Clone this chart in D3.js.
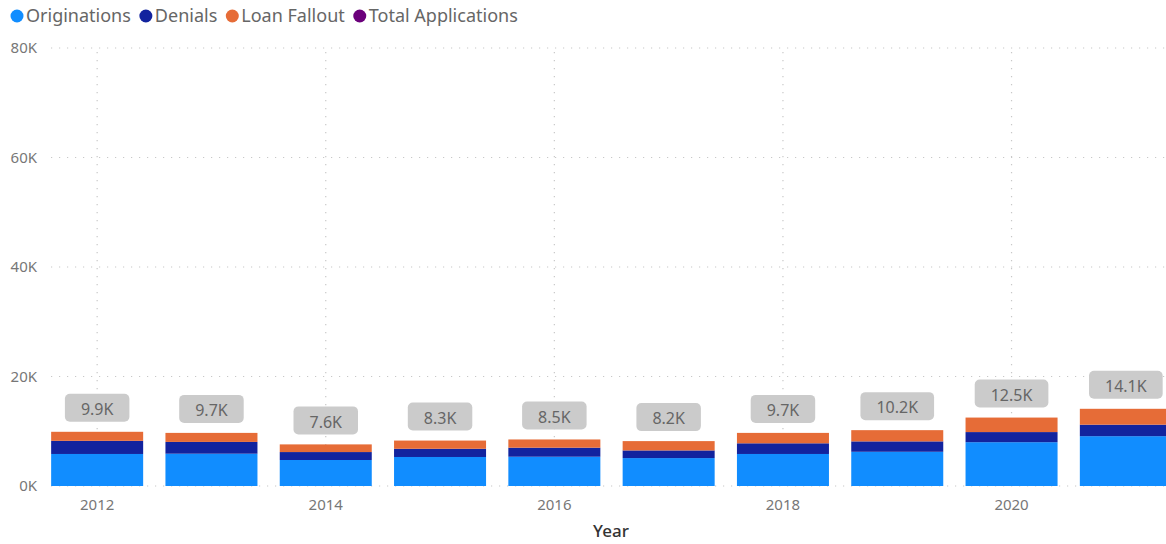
<!DOCTYPE html>
<html>
<head>
<meta charset="utf-8">
<script src="https://cdn.jsdelivr.net/npm/d3@7"></script>
<style>
  body { margin: 0; background: #fff; overflow: hidden; }
  svg { display: block; font-family: "Segoe UI", "Noto Sans", sans-serif; }
</style>
</head>
<body>
<div id="chart"></div>
<script>
// data (thousands)
const years = [2012, 2013, 2014, 2015, 2016, 2017, 2018, 2019, 2020, 2021];
const originations = [5.85, 5.9, 4.75, 5.3, 5.35, 5.1, 5.85, 6.25, 8.0, 9.1];
const denials = [2.4, 2.15, 1.45, 1.5, 1.65, 1.4, 1.95, 1.9, 1.85, 2.1];
const loanFallout = [1.65, 1.65, 1.4, 1.5, 1.5, 1.7, 1.9, 2.05, 2.65, 2.9];
const totalApplications = [9.9, 9.7, 7.6, 8.3, 8.5, 8.2, 9.7, 10.2, 12.5, 14.1];
const yTicks = [0, 20, 40, 60, 80];
const xTickYears = [2012, 2014, 2016, 2018, 2020];

const seriesNames = ['Originations', 'Denials', 'Loan Fallout', 'Total Applications'];
const colours = ['#118DFF', '#12239E', '#E66C37', '#6B007B'];

const width = 1166, height = 544;
const margin = {top: 48, right: 0, bottom: 58, left: 51};

const rows = years.map((y, i) => ({
  year: y,
  Originations: originations[i],
  Denials: denials[i],
  'Loan Fallout': loanFallout[i],
  total: totalApplications[i]
}));

const svg = d3.select('#chart').append('svg')
  .attr('width', width)
  .attr('height', height);

const x = d3.scaleBand()
  .domain(years)
  .range([40, 1183])
  .paddingInner(0.195)
  .paddingOuter(0.0975);

const y = d3.scaleLinear()
  .domain([0, 80])
  .range([height - margin.bottom, margin.top]);

const colour = d3.scaleOrdinal().domain(seriesNames).range(colours);

// gridlines
const grid = svg.append('g').attr('class', 'grid');
grid.selectAll('.hgrid')
  .data(yTicks).enter()
  .append('line')
  .attr('x1', margin.left).attr('x2', width)
  .attr('y1', d => y(d)).attr('y2', d => y(d))
  .attr('stroke', '#c8c8c8')
  .attr('stroke-width', 1.2)
  .attr('stroke-dasharray', '1.2,6.8');

grid.selectAll('.vgrid')
  .data(xTickYears).enter()
  .append('line')
  .attr('x1', d => x(d) + x.bandwidth() / 2)
  .attr('x2', d => x(d) + x.bandwidth() / 2)
  .attr('y1', y(80) + 4).attr('y2', y(0))
  .attr('stroke', '#c8c8c8')
  .attr('stroke-width', 1.2)
  .attr('stroke-dasharray', '1.2,6.8');

// y axis labels
svg.append('g').selectAll('text')
  .data(yTicks).enter()
  .append('text')
  .attr('x', 37)
  .attr('y', d => y(d))
  .attr('dy', '0.35em')
  .attr('text-anchor', 'end')
  .attr('fill', '#777')
  .style('font-size', '15px')
  .text(d => d + 'K');

// x axis labels
svg.append('g').selectAll('text')
  .data(xTickYears).enter()
  .append('text')
  .attr('x', d => x(d) + x.bandwidth() / 2)
  .attr('y', 510)
  .attr('text-anchor', 'middle')
  .attr('fill', '#777')
  .style('font-size', '15px')
  .text(d => d);

svg.append('text')
  .attr('x', 611)
  .attr('y', 537)
  .attr('text-anchor', 'middle')
  .attr('fill', '#333')
  .style('font-size', '17px')
  .style('font-weight', 500)
  .text('Year');

// stacked bars
const stack = d3.stack().keys(seriesNames.slice(0, 3));
const stacked = stack(rows);

svg.append('g').selectAll('g')
  .data(stacked).enter()
  .append('g')
  .attr('fill', d => colour(d.key))
  .selectAll('rect')
  .data(d => d).enter()
  .append('rect')
  .attr('x', d => x(d.data.year))
  .attr('width', x.bandwidth())
  .attr('y', d => y(d[1]))
  .attr('height', d => y(d[0]) - y(d[1]));

// total labels in grey boxes
const labels = svg.append('g').selectAll('g')
  .data(rows).enter()
  .append('g')
  .attr('transform', d => `translate(${x(d.year) + x.bandwidth() / 2},${y(d.total) - 24})`);

labels.append('rect')
  .attr('y', -14)
  .attr('height', 28)
  .attr('rx', 5)
  .attr('fill', '#cbcbcb');

labels.append('text')
  .attr('text-anchor', 'middle')
  .attr('dy', '0.45em')
  .attr('fill', '#666')
  .style('font-size', '16px')
  .text(d => d.total.toFixed(1) + 'K');

labels.each(function() {
  const g = d3.select(this);
  const w = g.select('text').node().getComputedTextLength() + 32;
  g.select('rect').attr('x', -w / 2).attr('width', w);
});

// legend
const legend = svg.append('g').attr('transform', 'translate(0,16)');
let lx = 10;
seriesNames.forEach(name => {
  const item = legend.append('g').attr('transform', `translate(${lx},0)`);
  item.append('circle')
    .attr('cx', 7).attr('cy', 0).attr('r', 6.5)
    .attr('fill', colour(name));
  const t = item.append('text')
    .attr('x', 16)
    .attr('dy', '0.35em')
    .attr('fill', '#666')
    .style('font-size', '18px')
    .text(name);
  lx += 16 + t.node().getComputedTextLength() + 8;
});
</script>
</body>
</html>
